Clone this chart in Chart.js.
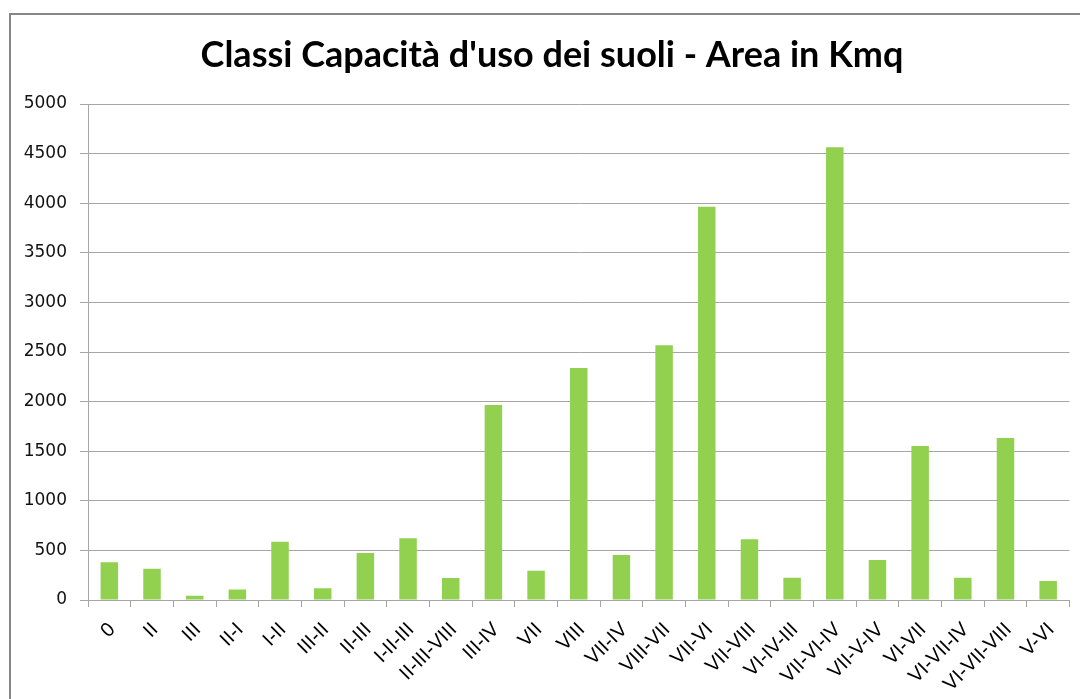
<!DOCTYPE html>
<html>
<head>
<meta charset="utf-8">
<script src="https://cdn.jsdelivr.net/npm/chart.js@4.4.1/dist/chart.umd.min.js"></script>
<style>
html,body{margin:0;padding:0;background:#fff;overflow:hidden;}
#wrap{position:relative;width:1080px;height:699px;}
</style>
</head>
<body>
<div id="wrap"><canvas id="c" width="1080" height="699"></canvas></div>
<script>
const categories = ["0","II","III","II-I","I-II","III-II","II-III","I-II-III","II-III-VIII","III-IV","VII","VIII","VII-IV","VIII-VII","VII-VI","VII-VIII","VI-IV-III","VII-VI-IV","VII-V-IV","VI-VII","VI-VII-IV","VI-VII-VIII","V-VI"];
const areaKmq = [380,316,44,107,588,118,474,622,222,1966,296,2339,454,2567,3965,612,225,4563,403,1552,225,1633,191];
const yTicks = [0,500,1000,1500,2000,2500,3000,3500,4000,4500,5000];
const chartTitle = "Classi Capacità d'uso dei suoli - Area in Kmq";

const frame = {
  id: 'frame',
  beforeDraw(chart) {
    const ctx = chart.ctx;
    ctx.save();
    ctx.fillStyle = '#fff';
    ctx.fillRect(0, 0, chart.width, chart.height);
    ctx.strokeStyle = '#868686';
    ctx.lineWidth = 2;
    ctx.strokeRect(10, 14, 1100, 720);
    ctx.restore();
  }
};

new Chart(document.getElementById('c'), {
  type: 'bar',
  data: {
    labels: categories,
    datasets: [{
      data: areaKmq,
      backgroundColor: '#92D050',
      borderWidth: 0,
      categoryPercentage: 1,
      barPercentage: 0.41
    }]
  },
  options: {
    responsive: false,
    animation: false,
    layout: { padding: { left: 20, right: -4, top: 0, bottom: 0 } },
    plugins: {
      legend: { display: false },
      tooltip: { enabled: false },
      title: {
        display: true,
        text: chartTitle,
        color: '#000',
        font: { family: 'Lato', weight: 'bold', size: 36, lineHeight: 1.2 },
        padding: { top: 34, bottom: 26.8 }
      }
    },
    scales: {
      x: {
        afterFit(s) { s.height = 99; },
        grid: { display: true, drawOnChartArea: false, drawTicks: true, tickLength: 7, offset: true, color: '#a6a6a6', lineWidth: 1 },
        border: { display: true, color: '#a6a6a6', width: 1 },
        ticks: {
          autoSkip: false,
          minRotation: 45,
          maxRotation: 45,
          padding: 11,
          labelOffset: 3,
          color: '#000',
          font: { family: 'Liberation Sans', size: 20 }
        }
      },
      y: {
        min: 0,
        max: 5000,
        afterFit(s) { s.width = 68; },
        afterBuildTicks(s) { s.ticks = yTicks.map(v => ({ value: v })); },
        grid: { color: '#a6a6a6', lineWidth: 1, tickLength: 8, drawTicks: true },
        border: { display: true, color: '#a6a6a6', width: 1 },
        ticks: {
          padding: 13,
          color: '#111',
          font: { family: 'DejaVu Sans', size: 17 },
          callback: (v) => String(v)
        }
      },
      yR: {
        position: 'right',
        display: true,
        afterFit(s) { s.width = 14.5; },
        grid: { display: false, drawOnChartArea: false },
        border: { display: false },
        ticks: { display: false }
      }
    }
  },
  plugins: [frame]
});
</script>
</body>
</html>
